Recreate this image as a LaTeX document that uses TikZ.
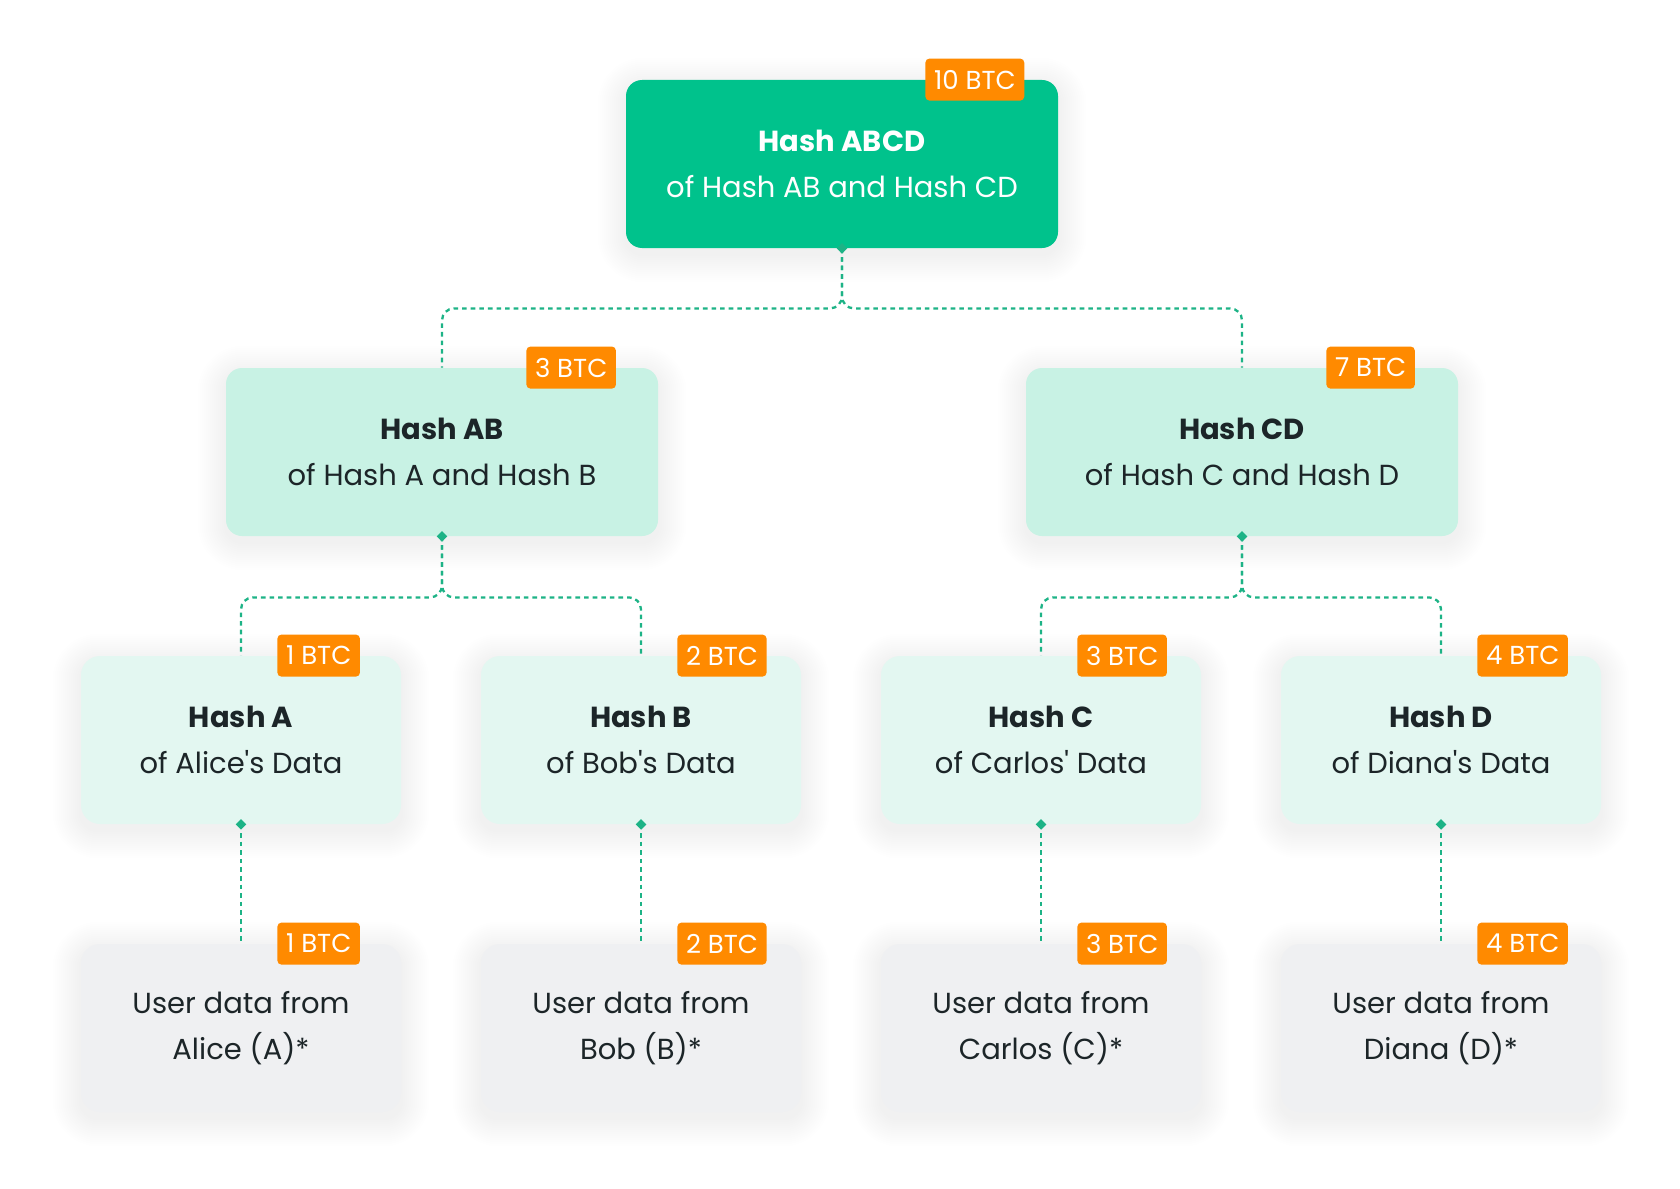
\documentclass[tikz,border=0pt]{standalone}
\usepackage{fontspec}
\setmainfont{Poppins}
\usetikzlibrary{shapes.geometric}
\definecolor{topgreen}{HTML}{00C28C}
\definecolor{midmint}{HTML}{C8F2E4}
\definecolor{lowmint}{HTML}{E3F7F1}
\definecolor{leafgray}{HTML}{EFF0F2}
\definecolor{badgeor}{HTML}{FF8A00}
\definecolor{ink}{HTML}{1C2528}
\definecolor{linkgreen}{HTML}{1DB386}
\pgfdeclarelayer{bg}
\pgfsetlayers{bg,main}
\begin{document}
\begin{tikzpicture}[x=0.5pt,y=-0.5pt,
  box/.style={rectangle, rounded corners=8pt, minimum height=84pt, align=center,
    text=ink, font=\fontsize{14.5}{23}\selectfont, inner sep=0pt},
  wide/.style={box, minimum width=216pt},
  narrow/.style={box, minimum width=160pt, rounded corners=9.5pt},
  badge/.style={fill=badgeor, rounded corners=2pt, text=white, font=\fontsize{13}{13}\selectfont,
    minimum height=21pt, inner xsep=4.3pt, inner ysep=0pt, anchor=west},
  link/.style={draw=linkgreen, line width=1.15pt, dash pattern=on 2.3pt off 2pt, rounded corners=6pt},
  dia/.style={diamond, fill=linkgreen, inner sep=0pt, minimum width=5.5pt, minimum height=5.5pt}
]
\useasboundingbox (0,0) rectangle (1680,1188);

% boxes
\node[wide, fill=topgreen, text=white] (top) at (842,164) {{\bfseries Hash ABCD}\\of Hash AB and Hash CD};
\node[wide, fill=midmint] (ab) at (442,452) {{\bfseries Hash AB}\\of Hash A and Hash B};
\node[wide, fill=midmint] (cd) at (1242,452) {{\bfseries Hash CD}\\of Hash C and Hash D};

\node[narrow, fill=lowmint] (ha) at (241,740) {{\bfseries Hash A}\\of Alice\textquotesingle s Data};
\node[narrow, fill=lowmint] (hb) at (641,740) {{\bfseries Hash B}\\of Bob\textquotesingle s Data};
\node[narrow, fill=lowmint] (hc) at (1041,740) {{\bfseries Hash C}\\of Carlos\textquotesingle\ Data};
\node[narrow, fill=lowmint] (hd) at (1441,740) {{\bfseries Hash D}\\of Diana\textquotesingle s Data};

\node[narrow, fill=leafgray] (ua) at (241,1028) {User data from\\Alice (A)*};
\node[narrow, fill=leafgray] (ub) at (641,1028) {User data from\\Bob (B)*};
\node[narrow, fill=leafgray] (uc) at (1041,1028) {User data from\\Carlos (C)*};
\node[narrow, fill=leafgray] (ud) at (1441,1028) {User data from\\Diana (D)*};

% background and soft shadows
\begin{pgfonlayer}{bg}
\fill[white] (0,0) rectangle (1680,1188);
\foreach \n in {top,ab,cd,ha,hb,hc,hd,ua,ub,uc,ud}{
  \foreach \k in {1,...,14}{
    \pgfmathsetlengthmacro\rc{9pt+\k*1pt}
    \fill[black, opacity=0.0042, rounded corners=\rc]
      ([xshift=-\k*1pt, yshift=-\k*1pt-3pt]\n.south west) rectangle
      ([xshift=\k*1pt, yshift=\k*1pt-3pt]\n.north east);
  }
}
\end{pgfonlayer}

% connectors
\draw[link] (top.south) -- ++(0,60) -| (ab.north);
\draw[link] (top.south) -- ++(0,60) -| (cd.north);
\draw[link] (ab.south) -- ++(0,61) -| (ha.north);
\draw[link] (ab.south) -- ++(0,61) -| (hb.north);
\draw[link] (cd.south) -- ++(0,61) -| (hc.north);
\draw[link] (cd.south) -- ++(0,61) -| (hd.north);
\draw[link] (ha.south) -- (ua.north);
\draw[link] (hb.south) -- (ub.north);
\draw[link] (hc.south) -- (uc.north);
\draw[link] (hd.south) -- (ud.north);

% diamonds
\node[dia] (dtop) at (top.south) {};
\node[dia] (dab) at (ab.south) {};
\node[dia] (dcd) at (cd.south) {};
\node[dia] (dha) at (ha.south) {};
\node[dia] (dhb) at (hb.south) {};
\node[dia] (dhc) at (hc.south) {};
\node[dia] (dhd) at (hd.south) {};

% badges
\node[badge] (btop) at ([xshift=41.5pt]top.north) {10 BTC};
\node[badge] (bab) at ([xshift=42pt]ab.north) {3 BTC};
\node[badge] (bcd) at ([xshift=42pt]cd.north) {7 BTC};
\node[badge] (bha) at ([xshift=18pt]ha.north) {1 BTC};
\node[badge] (bhb) at ([xshift=18pt]hb.north) {2 BTC};
\node[badge] (bhc) at ([xshift=18pt]hc.north) {3 BTC};
\node[badge] (bhd) at ([xshift=18pt]hd.north) {4 BTC};
\node[badge] (bua) at ([xshift=18pt]ua.north) {1 BTC};
\node[badge] (bub) at ([xshift=18pt]ub.north) {2 BTC};
\node[badge] (buc) at ([xshift=18pt]uc.north) {3 BTC};
\node[badge] (bud) at ([xshift=18pt]ud.north) {4 BTC};
\end{tikzpicture}
\end{document}
